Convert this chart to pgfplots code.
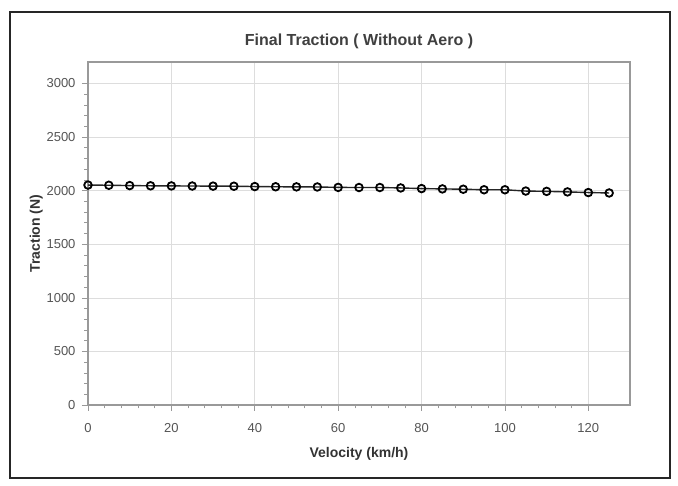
\documentclass[border=0pt]{standalone}
\usepackage{pgfplots}
\pgfplotsset{compat=1.18}
\usepackage{fontspec}
\setmainfont{Liberation Sans}
\definecolor{tickgray}{HTML}{555555}
\definecolor{gridgray}{HTML}{DDDDDD}
\definecolor{axgray}{HTML}{999999}
\begin{document}
\begin{tikzpicture}[x=1pt,y=1pt]
\useasboundingbox[fill=white] (-88,-81) rectangle (590,405);
\draw[line width=2.2pt, black!85] (-78,-73) rectangle (582,393);
\begin{axis}[
  at={(0,0)}, anchor=south west,
  scale only axis, width=542pt, height=343pt,
  xmin=0, xmax=130, ymin=0, ymax=3200,
  xtick={0,20,...,120}, ytick={0,500,...,3000},
  minor x tick num=4, minor y tick num=4,
  tick align=outside, tick pos=left,
  major tick length=6pt, minor tick length=3.5pt,
  every tick/.style={axgray, line width=0.6pt},
  axis line style={axgray, line width=1.2pt},
  grid=major, major grid style={gridgray, line width=0.6pt},
  tick label style={font=\fontsize{13}{15}\selectfont, text=tickgray},
  /pgf/number format/assume math mode=true,
  /pgf/number format/1000 sep={},
  xticklabel style={yshift=-9pt},
  yticklabel style={xshift=-3pt},
  xlabel={\textbf{Velocity (km/h)}},
  ylabel={\textbf{Traction (N)}},
  label style={font=\fontsize{14}{16}\selectfont, text=black!80},
  xlabel style={yshift=-8pt},
  ylabel style={yshift=-3pt},
  title={\textbf{Final Traction ( Without Aero )}},
  title style={font=\fontsize{16}{19}\selectfont, text=black!75, yshift=4pt},
  clip=false,
]
\addplot[black!85, line width=1.4pt, mark=o, mark size=3.8pt,
  mark options={fill=white, line width=1.8pt, black}] coordinates {
(0,2052) (5,2050) (10,2047) (15,2045) (20,2044) (25,2043) (30,2042) (35,2041)
(40,2038) (45,2036) (50,2035) (55,2034) (60,2030) (65,2029) (70,2029) (75,2025)
(80,2019) (85,2016) (90,2013) (95,2008) (100,2008) (105,1996) (110,1993)
(115,1988) (120,1982) (125,1978)
};
\end{axis}
\end{tikzpicture}
\end{document}
